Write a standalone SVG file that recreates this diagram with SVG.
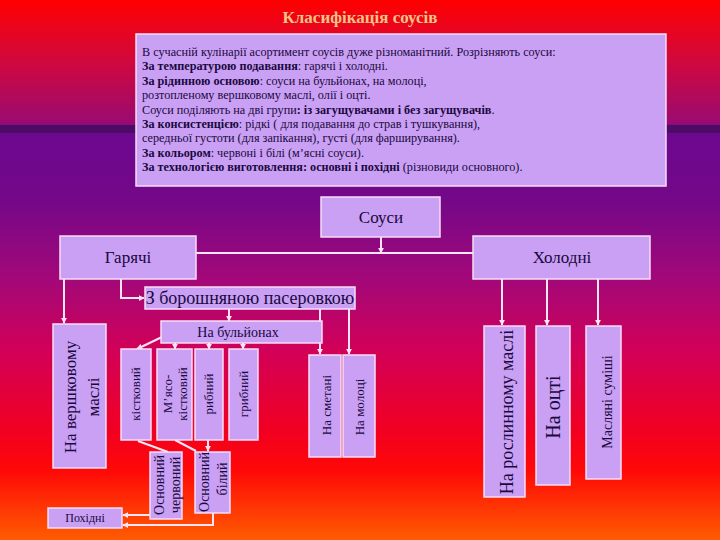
<svg xmlns="http://www.w3.org/2000/svg" width="720" height="540" viewBox="0 0 720 540">
<defs>
<linearGradient id="bg" x1="0" y1="0" x2="0" y2="1">
<stop offset="0" stop-color="#ff0000"/>
<stop offset="0.11" stop-color="#d2083c"/>
<stop offset="0.225" stop-color="#9c0a70"/>
<stop offset="0.25" stop-color="#6c0890"/>
<stop offset="0.37" stop-color="#740888"/>
<stop offset="0.52" stop-color="#a40878"/>
<stop offset="0.65" stop-color="#d20058"/>
<stop offset="0.80" stop-color="#f20020"/>
<stop offset="0.87" stop-color="#ff0808"/>
<stop offset="1" stop-color="#ff5c00"/>
</linearGradient>
<marker id="ah" viewBox="0 0 8 8" refX="7" refY="4" markerWidth="6" markerHeight="6" orient="auto" markerUnits="userSpaceOnUse">
<path d="M0,0 L8,4 L0,8 Z" fill="#ffe4f4"/>
</marker>
<style>
.box{fill:#c9a0f4;stroke:#f6dcf6;stroke-width:1.5}
.t{font-family:"Liberation Serif","Times New Roman",serif;fill:#1a0840}
.i{font-family:"Liberation Serif","Times New Roman",serif;fill:#1a0840;font-size:12.2px}
.c{text-anchor:middle}
.ln{fill:none;stroke:#ffe4f4;stroke-width:2}
.ar{fill:none;stroke:#ffe4f4;stroke-width:2;marker-end:url(#ah)}
.b{font-weight:bold}
</style>
</defs>
<rect width="720" height="540" fill="url(#bg)"/>
<rect x="0" y="125" width="720" height="8" fill="#4c0c66"/>
<text x="360" y="23" class="c" font-weight="bold" font-family="Liberation Serif, serif" font-size="17" fill="#f2c488">Класифікація соусів</text>

<g id="info">
<rect class="box" x="136" y="34" width="530" height="152"/>
<text class="i" x="142" y="56">В сучасній кулінарії асортимент соусів дуже різноманітний.  Розрізняють соуси:</text>
<text class="i" x="142" y="70.4"><tspan class="b">За температурою подавання</tspan>: гарячі і холодні.</text>
<text class="i" x="142" y="84.8"><tspan class="b">За рідинною основою</tspan>: соуси на бульйонах, на молоці,</text>
<text class="i" x="142" y="99.2">розтопленому вершковому маслі, олії і оцті.</text>
<text class="i" x="142" y="113.6">Соуси поділяють на дві групи<tspan class="b">: із загущувачами і без загущувачів</tspan>.</text>
<text class="i" x="142" y="128"><tspan class="b">За консистенцією</tspan>: рідкі ( для подавання до страв і тушкування),</text>
<text class="i" x="142" y="142.4">середньої густоти (для запікання), густі (для фарширування).</text>
<text class="i" x="142" y="156.8"><tspan class="b">За кольором</tspan>: червоні і білі (м’ясні соуси).</text>
<text class="i" x="142" y="171.2"><tspan class="b">За технологією виготовлення: основні і похідні</tspan> (різновиди основного).</text>
</g>

<g id="connectors">
<path class="ar" d="M381,237 V253"/>
<path class="ln" d="M196,253 H473"/>
<path class="ar" d="M121,279 V298 H144"/>
<path class="ar" d="M64,279 V323"/>
<path class="ar" d="M229,309 V321"/>
<path class="ar" d="M320,309 V354"/>
<path class="ar" d="M349,309 V354"/>
<path class="ar" d="M162,337 L137,349"/>
<path class="ar" d="M175,343 V349"/>
<path class="ar" d="M209,343 V349"/>
<path class="ar" d="M243,343 V349"/>
<path class="ln" d="M138,441 L168,452"/>
<path class="ln" d="M175,440 L196,451"/>
<path class="ar" d="M208,440 V451"/>
<path class="ar" d="M150,515 H123"/>
<path class="ar" d="M213,513 V525 H123"/>
<path class="ar" d="M502,279 V325"/>
<path class="ar" d="M547,279 V325"/>
<path class="ar" d="M598,279 V325"/>
</g>

<g id="sauces">
<rect class="box" x="321" y="197" width="119" height="40"/>
<text class="t c" font-size="17" x="381" y="223">Соуси</text>
</g>
<g id="hot">
<rect class="box" x="60" y="236" width="136" height="43"/>
<text class="t c" font-size="17" x="128" y="263">Гарячі</text>
</g>
<g id="cold">
<rect class="box" x="473" y="236" width="177" height="43"/>
<text class="t c" font-size="17" x="562" y="263">Холодні</text>
</g>
<g id="roux">
<rect class="box" x="145" y="287" width="210" height="22"/>
<text class="t c" font-size="18" x="250" y="304">З борошняною пасеровкою</text>
</g>
<g id="butter">
<rect class="box" x="53" y="324" width="53" height="144"/>
<text class="t c" font-size="17" transform="translate(76,397) rotate(-90)">На вершковому</text>
<text class="t c" font-size="17" transform="translate(99,397) rotate(-90)">маслі</text>
</g>
<g id="broth">
<rect class="box" x="161" y="321" width="161" height="22"/>
<text class="t c" font-size="14" x="238" y="337">На бульйонах</text>
</g>
<g id="bone">
<rect class="box" x="121" y="349" width="30" height="91"/>
<text class="t c" font-size="13" transform="translate(140,394) rotate(-90)">кістковий</text>
</g>
<g id="meatbone">
<rect class="box" x="157" y="349" width="35" height="91"/>
<text class="t c" font-size="13" transform="translate(172,394) rotate(-90)">М’ясо-</text>
<text class="t c" font-size="13" transform="translate(187,394) rotate(-90)">кістковий</text>
</g>
<g id="fish">
<rect class="box" x="195" y="349" width="28" height="91"/>
<text class="t c" font-size="13" transform="translate(213,394) rotate(-90)">рибний</text>
</g>
<g id="mushroom">
<rect class="box" x="229" y="349" width="29" height="91"/>
<text class="t c" font-size="13" transform="translate(248,394) rotate(-90)">грибний</text>
</g>
<g id="red">
<rect class="box" x="150" y="452" width="32" height="67"/>
<text class="t c" font-size="14" transform="translate(164,485) rotate(-90)">Основний</text>
<text class="t c" font-size="14" transform="translate(180,485) rotate(-90)">червоний</text>
</g>
<g id="white">
<rect class="box" x="195" y="452" width="35" height="61"/>
<text class="t c" font-size="14" transform="translate(209,482) rotate(-90)">Основний</text>
<text class="t c" font-size="14" transform="translate(227,479) rotate(-90)">білий</text>
</g>
<g id="derived">
<rect class="box" x="48" y="508" width="74" height="20"/>
<text class="t c" font-size="12" x="85" y="522">Похідні</text>
</g>
<g id="sourcream">
<rect class="box" x="309" y="355" width="32" height="102"/>
<text class="t c" font-size="13" transform="translate(331,405) rotate(-90)">На сметані</text>
</g>
<g id="milk">
<rect class="box" x="343" y="355" width="32" height="102"/>
<text class="t c" font-size="13" transform="translate(364,407) rotate(-90)">На молоці</text>
</g>
<g id="vegoil">
<rect class="box" x="484" y="326" width="41" height="171"/>
<text class="t c" font-size="18" transform="translate(513,412) rotate(-90)">На рослинному маслі</text>
</g>
<g id="vinegar">
<rect class="box" x="536" y="326" width="34" height="159"/>
<text class="t c" font-size="20" transform="translate(560,407) rotate(-90)">На оцті</text>
</g>
<g id="mixes">
<rect class="box" x="586" y="326" width="35" height="153"/>
<text class="t c" font-size="14" transform="translate(612,402) rotate(-90)">Масляні суміші</text>
</g>
</svg>
